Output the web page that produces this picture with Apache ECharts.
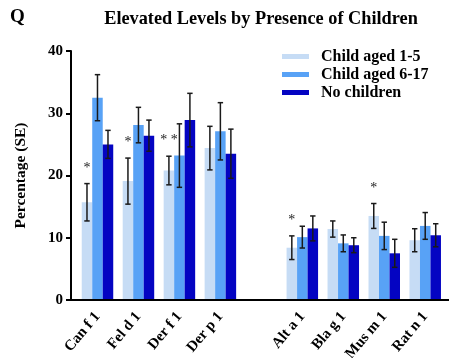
<!DOCTYPE html>
<html>
<head>
<meta charset="utf-8">
<script src="https://cdn.jsdelivr.net/npm/echarts@6/dist/echarts.min.js"></script>
<style>
  html, body { margin: 0; padding: 0; background: #fff; }
  #chart { width: 450px; height: 358px; }
</style>
</head>
<body>
<div id="chart"></div>
<script>
// Allergen categories (indoor group, then outdoor/pest group)
const categories = ['Can f 1', 'Fel d 1', 'Der f 1', 'Der p 1', 'Alt a 1', 'Bla g 1', 'Mus m 1', 'Rat n 1'];
const seriesNames = ['Child aged 1-5', 'Child aged 6-17', 'No children'];

// Percentage with elevated levels
const child1to5  = [15.7, 19.1, 20.8, 24.4, 8.4, 11.4, 13.5, 9.6];
const child6to17 = [32.5, 28.1, 23.2, 27.1, 10.1, 9.1, 10.3, 11.9];
const noChildren = [25.0, 26.4, 28.9, 23.5, 11.5, 8.8, 7.5, 10.4];

// Standard errors
const se1to5  = [3.0, 3.7, 2.3, 3.5, 1.9, 1.3, 2.0, 1.85];
const se6to17 = [3.7, 2.85, 5.1, 4.6, 1.75, 1.35, 2.2, 2.15];
const seNone  = [2.25, 2.5, 4.3, 3.95, 2.0, 1.2, 2.25, 1.85];

// Significance markers above the 1-5 bars
const significance = ['*', '*', '* *', '', '*', '', '*', ''];

const yTicks = [0, 10, 20, 30, 40];

const FONT = 'Liberation Serif, Times New Roman, serif';
const colors = ['#c6dcf5', '#58a2f6', '#0404c2'];
const BAR_W = 10.5;

// an empty slot separates the two allergen groups
const GAP_AT = 4;
const axisCats = [...categories.slice(0, GAP_AT), '', ...categories.slice(GAP_AT)];
const slot = i => (i < GAP_AT ? i : i + 1);

function barData(vals) {
  const d = axisCats.map(() => '-');
  vals.forEach((v, i) => { d[slot(i)] = v; });
  return d;
}
function errData(vals, ses, marks) {
  return vals.map((v, i) => [slot(i), v, ses[i], marks ? marks[i] : '']);
}

const valueSets = [child1to5, child6to17, noChildren];
const seSets = [se1to5, se6to17, seNone];

const series = [];
valueSets.forEach((vals, k) => {
  series.push({
    name: seriesNames[k],
    type: 'bar',
    data: barData(vals),
    barWidth: BAR_W,
    barGap: '0%',
    itemStyle: { color: colors[k] },
    z: 2
  });
});
valueSets.forEach((vals, k) => {
  const offset = (k - 1) * BAR_W;
  series.push({
    type: 'custom',
    data: errData(vals, seSets[k], k === 0 ? significance : null),
    z: 5,
    silent: true,
    renderItem: function (params, api) {
      const x = api.coord([api.value(0), 0])[0] + offset;
      const v = api.value(1), e = api.value(2);
      const yT = api.coord([api.value(0), v + e])[1];
      const yB = api.coord([api.value(0), v - e])[1];
      const cap = 2.7;
      const st = { stroke: '#1a1a1a', lineWidth: 1.5 };
      const children = [
        { type: 'line', shape: { x1: x, y1: yT, x2: x, y2: yB }, style: st },
        { type: 'line', shape: { x1: x - cap, y1: yT, x2: x + cap, y2: yT }, style: st },
        { type: 'line', shape: { x1: x - cap, y1: yB, x2: x + cap, y2: yB }, style: st }
      ];
      const mark = api.value(3);
      if (mark) {
        children.push({
          type: 'text',
          style: {
            text: mark, x: x, y: yT - 8.5,
            textAlign: 'center', textVerticalAlign: 'bottom',
            font: '14px ' + FONT, fill: '#222'
          }
        });
      }
      return { type: 'group', children };
    }
  });
});

const chart = echarts.init(document.getElementById('chart'), null, { renderer: 'canvas' });
chart.setOption({
  animation: false,
  backgroundColor: '#fff',
  grid: { left: 77, right: 4.3, top: 51, bottom: 58, containLabel: false, outerBoundsMode: 'none' },
  legend: {
    data: seriesNames,
    orient: 'vertical',
    left: 277, top: 43.5,
    itemWidth: 27, itemHeight: 5, itemGap: 2,
    icon: 'rect',
    textStyle: { fontFamily: FONT, fontWeight: 'bold', fontSize: 16, color: '#000', padding: [0, 0, 0, 7] }
  },
  xAxis: {
    type: 'category',
    data: axisCats,
    axisLine: { show: false },
    axisTick: { show: false },
    axisLabel: {
      interval: 0, rotate: 50, margin: 14,
      fontFamily: FONT, fontWeight: 'bold', fontSize: 15, color: '#000'
    }
  },
  yAxis: {
    type: 'value',
    min: 0, max: 40, interval: 10,
    offset: 6,
    name: 'Percentage (SE)',
    nameLocation: 'middle',
    nameGap: 42,
    nameTextStyle: { fontFamily: FONT, fontWeight: 'bold', fontSize: 15.5, color: '#000' },
    axisLine: { show: true, lineStyle: { color: '#000', width: 2 } },
    axisTick: { show: true, length: 5, lineStyle: { color: '#000', width: 2 } },
    axisLabel: {
      margin: 8, fontFamily: FONT, fontWeight: 'bold', fontSize: 15, color: '#000',
      formatter: v => (yTicks.includes(v) ? String(v) : '')
    },
    splitLine: { show: false }
  },
  series
});

// baseline across the full plot width, joined to the y axis
const y0 = chart.convertToPixel({ yAxisIndex: 0 }, 0);
chart.setOption({
  graphic: [
    { type: 'line', z: 10, shape: { x1: 70, y1: y0, x2: 449, y2: y0 }, style: { stroke: '#000', lineWidth: 2 } },
    { type: 'text', x: 10, y: 8, style: { text: 'Q', textVerticalAlign: 'top', font: 'bold 19px ' + FONT, fill: '#000' } },
    { type: 'text', x: 261, y: 10, style: { text: 'Elevated Levels by Presence of Children', textAlign: 'center', textVerticalAlign: 'top', font: 'bold 18.3px ' + FONT, fill: '#000' } }
  ]
});
</script>
</body>
</html>
